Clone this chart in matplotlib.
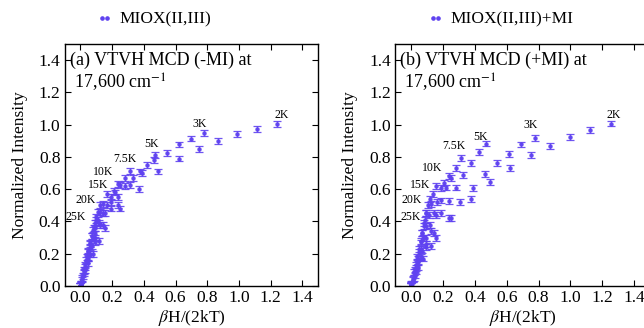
import numpy as np
import matplotlib
matplotlib.use("Agg")
import matplotlib.pyplot as plt
from matplotlib.lines import Line2D

plt.rcParams['font.family'] = ['Liberation Serif', 'DejaVu Serif']
plt.rcParams['mathtext.fontset'] = 'stix'

temps = ["2K", "3K", "5K", "7.5K", "10K", "15K", "20K", "25K"]

# panel (a) -MI : x = betaH/(2kT), y = normalized intensity, one list per isotherm
xa = {
    "2K":   [0.005, 0.12, 0.25, 0.37, 0.49, 0.62, 0.745, 0.87, 0.99, 1.115, 1.24],
    "3K":   [0.003, 0.08, 0.155, 0.235, 0.31, 0.39, 0.465, 0.545, 0.62, 0.70, 0.78],
    "5K":   [0.0, 0.047, 0.094, 0.14, 0.19, 0.235, 0.28, 0.33, 0.375, 0.42, 0.47],
    "7.5K": [0.002, 0.031, 0.063, 0.094, 0.125, 0.157, 0.19, 0.22, 0.25, 0.283, 0.314],
    "10K":  [0.0, 0.024, 0.047, 0.07, 0.094, 0.118, 0.14, 0.165, 0.19, 0.21, 0.235],
    "15K":  [0.001, 0.016, 0.031, 0.047, 0.063, 0.078, 0.094, 0.11, 0.125, 0.14, 0.165],
    "20K":  [0.0, 0.012, 0.024, 0.036, 0.048, 0.06, 0.072, 0.084, 0.096, 0.108, 0.125],
    "25K":  [0.0, 0.01, 0.02, 0.03, 0.04, 0.05, 0.06, 0.07, 0.08, 0.09, 0.10],
}
ya = {
    "2K":   [0.01, 0.28, 0.48, 0.60, 0.71, 0.79, 0.85, 0.90, 0.94, 0.975, 1.005],
    "3K":   [0.005, 0.20, 0.36, 0.50, 0.625, 0.70, 0.78, 0.825, 0.877, 0.914, 0.95],
    "5K":   [0.0, 0.14, 0.27, 0.38, 0.48, 0.55, 0.62, 0.67, 0.71, 0.75, 0.81],
    "7.5K": [0.01, 0.10, 0.20, 0.30, 0.38, 0.45, 0.52, 0.58, 0.625, 0.667, 0.712],
    "10K":  [0.0, 0.08, 0.17, 0.25, 0.32, 0.39, 0.45, 0.50, 0.55, 0.59, 0.63],
    "15K":  [0.005, 0.06, 0.12, 0.18, 0.24, 0.30, 0.36, 0.41, 0.46, 0.51, 0.57],
    "20K":  [0.0, 0.05, 0.10, 0.16, 0.21, 0.26, 0.31, 0.36, 0.41, 0.46, 0.50],
    "25K":  [0.0, 0.04, 0.09, 0.13, 0.18, 0.22, 0.27, 0.31, 0.35, 0.39, 0.43],
}

# panel (b) +MI
xb = {
    "2K":   [0.004, 0.125, 0.25, 0.376, 0.497, 0.623, 0.754, 0.87, 0.997, 1.122, 1.254],
    "3K":   [0.002, 0.078, 0.155, 0.236, 0.31, 0.389, 0.466, 0.539, 0.616, 0.692, 0.775],
    "5K":   [0.0, 0.047, 0.094, 0.142, 0.19, 0.236, 0.28, 0.324, 0.376, 0.424, 0.47],
    "7.5K": [0.003, 0.031, 0.063, 0.094, 0.125, 0.157, 0.19, 0.22, 0.25, 0.284, 0.313],
    "10K":  [0.0, 0.024, 0.047, 0.07, 0.094, 0.118, 0.142, 0.165, 0.19, 0.21, 0.236],
    "15K":  [0.001, 0.016, 0.031, 0.047, 0.063, 0.078, 0.094, 0.11, 0.125, 0.14, 0.157],
    "20K":  [0.0, 0.012, 0.024, 0.036, 0.048, 0.06, 0.072, 0.084, 0.096, 0.108, 0.118],
    "25K":  [0.0, 0.01, 0.02, 0.03, 0.04, 0.05, 0.06, 0.07, 0.08, 0.088, 0.094],
}
yb = {
    "2K":   [0.01, 0.25, 0.42, 0.539, 0.646, 0.733, 0.811, 0.87, 0.925, 0.966, 1.007],
    "3K":   [0.0, 0.17, 0.30, 0.42, 0.522, 0.609, 0.693, 0.76, 0.817, 0.877, 0.918],
    "5K":   [0.005, 0.12, 0.24, 0.33, 0.45, 0.528, 0.61, 0.687, 0.76, 0.828, 0.883],
    "7.5K": [0.0, 0.09, 0.18, 0.26, 0.34, 0.44, 0.53, 0.61, 0.667, 0.733, 0.794],
    "10K":  [0.01, 0.07, 0.15, 0.22, 0.30, 0.38, 0.45, 0.52, 0.605, 0.64, 0.683],
    "15K":  [0.0, 0.05, 0.11, 0.17, 0.23, 0.30, 0.37, 0.44, 0.51, 0.57, 0.62],
    "20K":  [0.005, 0.045, 0.10, 0.15, 0.21, 0.27, 0.33, 0.39, 0.45, 0.50, 0.54],
    "25K":  [0.0, 0.04, 0.085, 0.13, 0.18, 0.23, 0.28, 0.33, 0.37, 0.41, 0.45],
}

# label anchor points (text centres) for each isotherm
lab_a = {"2K": (1.27, 1.06), "3K": (0.75, 1.005), "5K": (0.447, 0.883), "7.5K": (0.283, 0.784),
         "10K": (0.146, 0.708), "15K": (0.11, 0.625), "20K": (0.03, 0.532), "25K": (-0.03, 0.425)}
lab_b = {"2K": (1.268, 1.059), "3K": (0.749, 0.997), "5K": (0.436, 0.925), "7.5K": (0.268, 0.867),
         "10K": (0.132, 0.729), "15K": (0.058, 0.625), "20K": (0.006, 0.532), "25K": (-0.004, 0.425)}

err = 0.018
col = '#5f42f0'

fig = plt.figure(figsize=(6.44, 3.28), dpi=100)
axa = fig.add_axes([0.1003, 0.128, 0.3938, 0.738])
axb = fig.add_axes([0.6134, 0.128, 0.3963, 0.738])

panels = [
    (axa, xa, ya, lab_a, "(a) VTVH MCD (-MI) at\n 17,600 cm$^{-1}$", "MIOX(II,III)"),
    (axb, xb, yb, lab_b, "(b) VTVH MCD (+MI) at\n 17,600 cm$^{-1}$", "MIOX(II,III)+MI"),
]

for ax, xs, ys, labs, title, leg in panels:
    for t in temps:
        ax.errorbar(xs[t], ys[t], yerr=err, fmt='o', ms=2.2, color=col, ecolor=col,
                    elinewidth=0.9, capsize=3.0, capthick=0.9, alpha=0.9)
        lx, ly = labs[t]
        ax.text(lx, ly, t, fontsize=8.5, ha='center', va='center')
    ax.set_xlim(-0.1, 1.5)
    ax.set_ylim(0, 1.5)
    ax.set_xticks(np.arange(0, 1.41, 0.2))
    ax.set_yticks(np.arange(0, 1.41, 0.2))
    ax.xaxis.set_major_formatter(plt.FormatStrFormatter('%.1f'))
    ax.yaxis.set_major_formatter(plt.FormatStrFormatter('%.1f'))
    ax.tick_params(direction='in', top=True, right=True, length=4, width=0.8,
                   labelsize=12.5, pad=3)
    for s in ax.spines.values():
        s.set_linewidth(1.0)
    ax.set_xlabel(r"$\beta$H/(2kT)", fontsize=12.5, labelpad=1)
    ax.set_ylabel("Normalized Intensity", fontsize=12.5, labelpad=8)
    ax.text(0.02, 0.97, title, transform=ax.transAxes, fontsize=13, ha='left', va='top',
            linespacing=1.15)
    proxy = Line2D([], [], ls='none', marker='o', ms=2.3, color=col)
    ax.legend([proxy], [leg], loc='center left', bbox_to_anchor=(0.1, 1.1), frameon=False,
              numpoints=2, handlelength=0.9, handletextpad=0.4, fontsize=12.5,
              borderaxespad=0)

fig.savefig("out.png", dpi=100)
